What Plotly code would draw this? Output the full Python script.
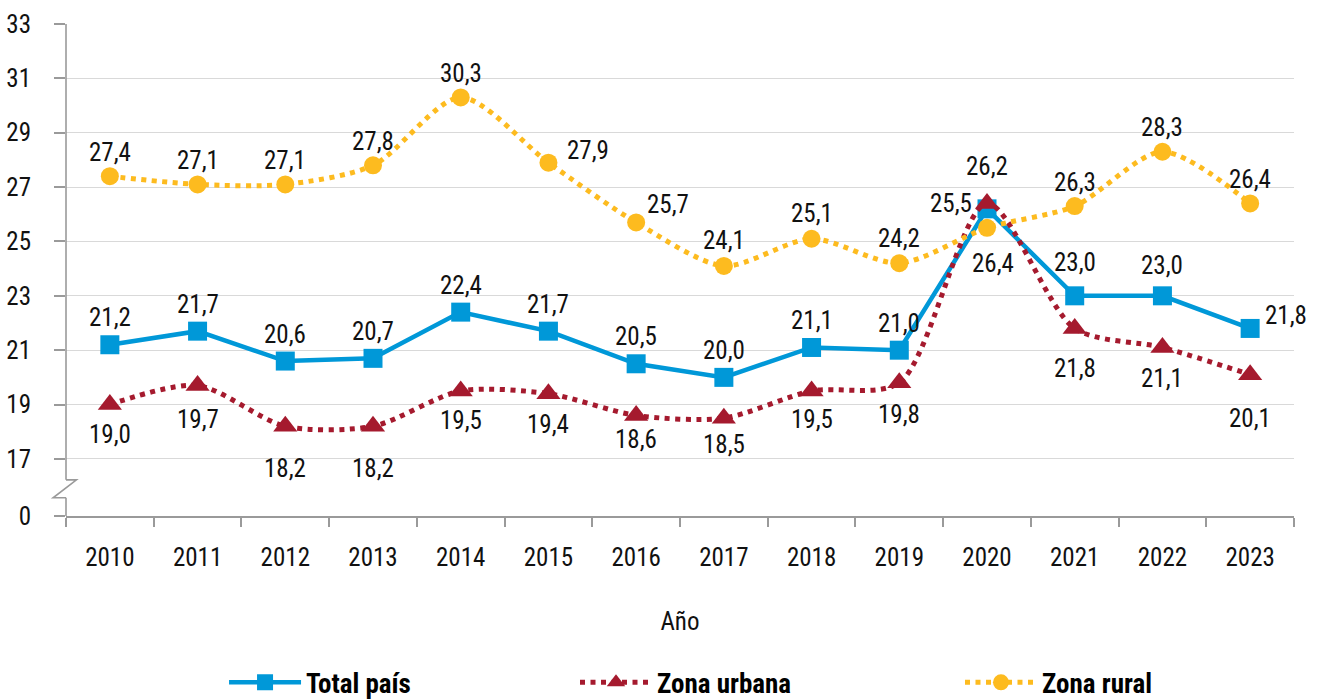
import plotly.graph_objects as go

years = ["2010", "2011", "2012", "2013", "2014", "2015", "2016",
         "2017", "2018", "2019", "2020", "2021", "2022", "2023"]
total_pais = [21.2, 21.7, 20.6, 20.7, 22.4, 21.7, 20.5, 20.0, 21.1, 21.0, 26.2, 23.0, 23.0, 21.8]
zona_urbana = [19.0, 19.7, 18.2, 18.2, 19.5, 19.4, 18.6, 18.5, 19.5, 19.8, 26.4, 21.8, 21.1, 20.1]
zona_rural = [27.4, 27.1, 27.1, 27.8, 30.3, 27.9, 25.7, 24.1, 25.1, 24.2, 25.5, 26.3, 28.3, 26.4]

y_tick_vals = [14.9, 17, 19, 21, 23, 25, 27, 29, 31, 33]
y_tick_text = ["0", "17", "19", "21", "23", "25", "27", "29", "31", "33"]

FONT = ("Liberation Sans Narrow, Noto Sans Condensed, Roboto Condensed, "
        "Open Sans Condensed, DejaVu Sans Condensed, Roboto, sans-serif")
FS = 25
BLUE = "#0098D8"
RED = "#A51A2E"
YELLOW = "#FDBB1F"
AXIS = "#9a9a9a"
TXT = "#111111"

# label offsets in px (dx, dy) per point; dy negative = up
off_total = [(0, -27)] * 10 + [(0, -42), (0, -33), (0, -30), (36, -13)]
off_urban = [(0, 30), (0, 34), (0, 42), (0, 42), (0, 30), (0, 31), (0, 24), (0, 26),
             (0, 29), (0, 32), (6, 60), (0, 40), (0, 31), (0, 44)]
off_rural = [(0, -24), (0, -24), (0, -24), (0, -24), (0, -24), (40, -12), (32, -18),
             (0, -25), (0, -25), (0, -25), (-36, -24), (0, -24), (0, -24), (0, -24)]

fig = go.Figure()

fig.add_trace(go.Scatter(
    x=years, y=total_pais, name="Total país", mode="lines+markers",
    line=dict(color=BLUE, width=4.5),
    marker=dict(symbol="square", size=19, color=BLUE),
    legend="legend",
))
fig.add_trace(go.Scatter(
    x=years, y=zona_urbana, name="Zona urbana", mode="lines+markers",
    line=dict(color=RED, width=5, dash="5px,5.5px", shape="spline", smoothing=0.8),
    marker=dict(symbol="triangle-up", size=21, color=RED),
    legend="legend2",
))
fig.add_trace(go.Scatter(
    x=years, y=zona_rural, name="Zona rural", mode="lines+markers",
    line=dict(color=YELLOW, width=5, dash="5px,5.5px", shape="spline", smoothing=0.8),
    marker=dict(symbol="circle", size=18, color=YELLOW),
    legend="legend3",
))

def fmt(v):
    return f"{v:.1f}".replace(".", ",")

annotations = []
for series, offs in ((total_pais, off_total), (zona_urbana, off_urban), (zona_rural, off_rural)):
    for i, (v, (dx, dy)) in enumerate(zip(series, offs)):
        annotations.append(dict(
            x=i, y=v, xref="x", yref="y", text=fmt(v), showarrow=False,
            xshift=dx, yshift=-dy, font=dict(family=FONT, size=FS, color=TXT),
        ))

# axis break and y axis line drawn as shapes
shapes = [
    dict(type="line", xref="paper", yref="y", x0=0, x1=0, y0=33, y1=16.23,
         line=dict(color=AXIS, width=1.6)),
    dict(type="path", xref="paper", yref="y",
         path="M 0 16.23 L 0.0085 16.23 L -0.0105 15.57 L 0 15.57",
         line=dict(color=AXIS, width=1.6)),
    dict(type="line", xref="paper", yref="y", x0=0, x1=0, y0=15.57, y1=14.9,
         line=dict(color=AXIS, width=1.6)),
]

leg_common = dict(
    orientation="h", yanchor="middle", y=-0.339, xanchor="left",
    font=dict(family=FONT, size=27, color="#000000", weight="bold"),
    itemwidth=72, bgcolor="rgba(0,0,0,0)",
)

fig.update_layout(
    width=1320, height=700,
    margin=dict(l=66, r=26, t=24, b=184, autoexpand=False),
    paper_bgcolor="white", plot_bgcolor="white",
    font=dict(family=FONT, size=FS, color=TXT),
    annotations=annotations,
    shapes=shapes,
    showlegend=True,
    legend=dict(x=0.1287, **leg_common),
    legend2=dict(x=0.4145, **leg_common),
    legend3=dict(x=0.728, **leg_common),
    xaxis=dict(
        type="category", range=[-0.5, 13.5], automargin=False,
        showline=True, linecolor=AXIS, linewidth=1.6,
        ticks="outside", ticklen=9, tickcolor=AXIS, tickwidth=1.6,
        tickson="boundaries", showgrid=False,
        tickfont=dict(family=FONT, size=FS, color=TXT),
        ticklabelstandoff=18,
        title=dict(text="Año", font=dict(family=FONT, size=FS, color=TXT), standoff=42),
        zeroline=False,
    ),
    yaxis=dict(
        range=[14.9, 33], tickvals=y_tick_vals, ticktext=y_tick_text, automargin=False,
        showline=False, ticks="outside", ticklen=11, tickcolor=AXIS, tickwidth=1.6,
        showgrid=True, gridcolor="#d9d9d9", gridwidth=1.4,
        tickfont=dict(family=FONT, size=FS, color=TXT),
        ticklabelstandoff=18, zeroline=False,
    ),
)

fig.write_html(
    "out.html",
    config={"displayModeBar": False},
    post_script="document.body.style.margin='0';document.body.style.overflow='hidden';",
)
